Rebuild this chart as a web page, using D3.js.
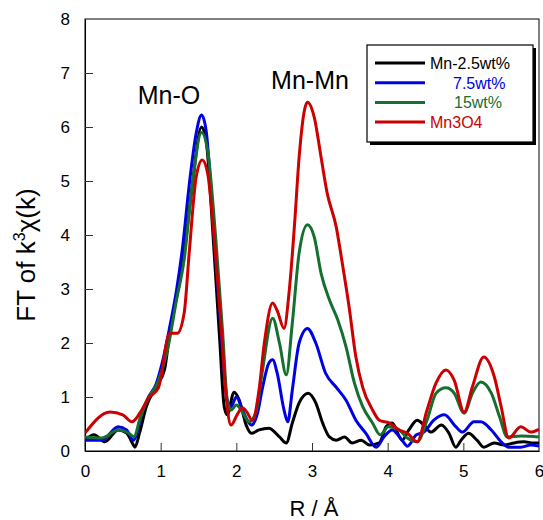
<!DOCTYPE html>
<html>
<head>
<meta charset="utf-8">
<script src="https://cdn.jsdelivr.net/npm/d3@7"></script>
<style>
  body { margin: 0; background: #fff; }
  text { font-family: "Liberation Sans", Arial, sans-serif; }
</style>
</head>
<body>
<div class="chart"></div>
<script>
// series data (R in Angstrom, FT magnitude)
var seriesNames = ["Mn-2.5wt%", "7.5wt%", "15wt%", "Mn3O4"];
var seriesColors = ["#000000", "#0000e6", "#157030", "#cc0000"];

var rBlack = [0, 0.12, 0.26, 0.44, 0.55, 0.64, 0.66, 0.72, 0.81, 0.94, 1.05, 1.12, 1.22, 1.31, 1.41, 1.54, 1.6, 1.69, 1.78, 1.84, 1.88, 1.97, 2.04, 2.13, 2.2, 2.3, 2.43, 2.57, 2.66, 2.74, 2.83, 2.95, 3.05, 3.14, 3.23, 3.32, 3.43, 3.53, 3.65, 3.76, 3.89, 3.98, 4.06, 4.19, 4.28, 4.39, 4.48, 4.57, 4.71, 4.81, 4.9, 4.97, 5.07, 5.18, 5.27, 5.41, 5.54, 5.67, 5.8, 5.93, 6];
var vBlack = [0.2, 0.3, 0.17, 0.39, 0.33, 0.11, 0.07, 0.33, 0.82, 1.19, 1.5, 2.18, 2.92, 3.67, 4.83, 6.0, 5.76, 4.04, 2.06, 0.82, 0.67, 1.09, 0.94, 0.48, 0.33, 0.39, 0.42, 0.26, 0.15, 0.52, 0.89, 1.07, 0.89, 0.52, 0.26, 0.2, 0.26, 0.15, 0.2, 0.11, 0.15, 0.45, 0.52, 0.2, 0.39, 0.57, 0.48, 0.35, 0.48, 0.33, 0.07, 0.2, 0.33, 0.2, 0.07, 0.15, 0.11, 0.15, 0.17, 0.15, 0.15];

var rBlue = [0, 0.22, 0.44, 0.55, 0.64, 0.68, 0.75, 0.84, 0.94, 1.02, 1.12, 1.21, 1.29, 1.38, 1.47, 1.54, 1.6, 1.69, 1.8, 1.88, 1.93, 2.0, 2.08, 2.2, 2.28, 2.34, 2.43, 2.48, 2.54, 2.63, 2.68, 2.74, 2.83, 2.94, 3.05, 3.18, 3.32, 3.45, 3.58, 3.71, 3.85, 3.95, 4.06, 4.19, 4.26, 4.38, 4.48, 4.61, 4.75, 4.9, 4.99, 5.14, 5.23, 5.37, 5.5, 5.6, 5.76, 5.89, 6];
var vBlue = [0.2, 0.2, 0.45, 0.39, 0.2, 0.3, 0.7, 1.0, 1.24, 1.63, 2.3, 2.98, 3.78, 4.96, 5.89, 6.22, 5.94, 4.33, 2.18, 0.94, 0.82, 1.0, 0.76, 0.48, 0.7, 1.13, 1.63, 1.69, 1.44, 0.76, 0.54, 1.13, 2.0, 2.27, 2.0, 1.44, 1.18, 0.94, 0.57, 0.33, 0.07, 0.26, 0.39, 0.2, 0.09, 0.3, 0.35, 0.57, 0.67, 0.45, 0.35, 0.54, 0.54, 0.39, 0.17, 0.07, 0.07, 0.11, 0.09];

var rGreen = [0, 0.22, 0.44, 0.58, 0.65, 0.72, 0.81, 0.97, 1.09, 1.21, 1.31, 1.41, 1.54, 1.62, 1.73, 1.82, 1.88, 1.93, 2.0, 2.08, 2.17, 2.26, 2.34, 2.48, 2.57, 2.66, 2.74, 2.83, 2.94, 3.03, 3.12, 3.23, 3.34, 3.45, 3.56, 3.67, 3.8, 3.9, 4.01, 4.15, 4.26, 4.39, 4.52, 4.64, 4.77, 4.88, 5.01, 5.12, 5.23, 5.37, 5.48, 5.58, 5.76, 6];
var vGreen = [0.26, 0.24, 0.39, 0.33, 0.26, 0.57, 0.91, 1.3, 1.87, 2.8, 3.54, 4.83, 5.9, 5.57, 3.9, 2.18, 0.94, 0.76, 0.85, 0.72, 0.54, 0.72, 1.44, 2.46, 2.0, 1.41, 2.37, 3.67, 4.19, 3.96, 3.29, 2.8, 2.43, 1.93, 1.26, 0.82, 0.52, 0.3, 0.45, 0.39, 0.24, 0.17, 0.57, 1.07, 1.17, 1.07, 0.7, 1.07, 1.28, 1.07, 0.63, 0.26, 0.28, 0.26];

var rRed = [0, 0.33, 0.5, 0.62, 0.75, 0.84, 0.97, 1.12, 1.22, 1.31, 1.38, 1.47, 1.55, 1.62, 1.71, 1.8, 1.87, 1.93, 2.01, 2.08, 2.14, 2.21, 2.3, 2.37, 2.48, 2.54, 2.63, 2.7, 2.77, 2.83, 2.9, 2.94, 3.03, 3.12, 3.2, 3.32, 3.4, 3.49, 3.58, 3.67, 3.8, 3.89, 4.02, 4.15, 4.26, 4.39, 4.52, 4.64, 4.77, 4.88, 5.01, 5.12, 5.27, 5.41, 5.5, 5.6, 5.76, 5.89, 6];
var vRed = [0.33, 0.72, 0.67, 0.54, 0.76, 0.98, 1.17, 2.18, 2.18, 2.55, 3.72, 5.08, 5.39, 5.15, 3.9, 2.3, 0.94, 0.48, 0.67, 0.8, 0.72, 0.57, 1.13, 2.0, 2.74, 2.6, 2.27, 2.98, 4.21, 5.44, 6.31, 6.46, 6.18, 5.44, 4.78, 4.15, 3.48, 2.67, 1.74, 1.18, 0.76, 0.57, 0.52, 0.39, 0.33, 0.17, 0.76, 1.26, 1.5, 1.31, 0.72, 1.19, 1.74, 1.37, 0.82, 0.24, 0.45, 0.35, 0.4];

var xTicks = [0, 1, 2, 3, 4, 5, 6];
var yTicks = [0, 1, 2, 3, 4, 5, 6, 7, 8];

var allR = [rBlack, rBlue, rGreen, rRed];
var allV = [vBlack, vBlue, vGreen, vRed];

var margin = { top: 19, right: 3, bottom: 69, left: 85 };
var width = 543 - margin.left - margin.right,
    height = 520 - margin.top - margin.bottom;

var svg = d3.select(".chart")
  .append("svg")
  .attr("width", 543)
  .attr("height", 520);

var g = svg.append("g")
  .attr("transform", "translate(" + margin.left + "," + margin.top + ")");

var x = d3.scaleLinear().domain([0, 6]).range([0, width - 1]);
var y = d3.scaleLinear().domain([0, 8]).range([height, 0]);

g.append("defs").append("clipPath").attr("id", "clip")
  .append("rect").attr("x", 0).attr("y", 0).attr("width", width).attr("height", height);

// frame
g.append("rect")
  .attr("x", 0).attr("y", 0)
  .attr("width", x(6)).attr("height", height)
  .attr("fill", "none").attr("stroke", "#000").attr("stroke-width", 1);

// axes, ticks pointing inward
var xAxis = g.append("g")
  .attr("transform", "translate(0," + height + ")")
  .call(d3.axisBottom(x).tickValues(xTicks).tickSizeInner(-8).tickSizeOuter(0).tickPadding(14).tickFormat(d3.format("d")));
var yAxis = g.append("g")
  .call(d3.axisLeft(y).tickValues(yTicks).tickSizeInner(-8).tickSizeOuter(0).tickPadding(15).tickFormat(d3.format("d")));

[xAxis, yAxis].forEach(function(a) {
  a.select(".domain").attr("stroke", "#000");
  a.selectAll(".tick line").attr("stroke", "#333");
  a.selectAll("text").attr("font-size", 17).attr("fill", "#000")
    .style("font-family", "'Liberation Sans', Arial, sans-serif");
});
xAxis.selectAll(".tick").filter(function(d) { return d === 0 || d === 6; }).select("line").remove();
yAxis.selectAll(".tick").filter(function(d) { return d === 0 || d === 8; }).select("line").remove();

// lines
var line = d3.line()
  .x(function(d) { return x(d[0]); })
  .y(function(d) { return y(d[1]); })
  .curve(d3.curveMonotoneX);

var plot = g.append("g").attr("clip-path", "url(#clip)");
for (var i = 0; i < 4; i++) {
  var pts = allR[i].map(function(r, j) { return [r, allV[i][j]]; });
  plot.append("path")
    .datum(pts)
    .attr("fill", "none")
    .attr("stroke", seriesColors[i])
    .attr("stroke-width", 3)
    .attr("stroke-linejoin", "round")
    .attr("d", line);
}

// peak labels
svg.append("text").attr("x", 169).attr("y", 104).attr("text-anchor", "middle")
  .attr("font-size", 25).text("Mn-O");
svg.append("text").attr("x", 310).attr("y", 89).attr("text-anchor", "middle")
  .attr("font-size", 25).text("Mn-Mn");

// axis titles
svg.append("text")
  .attr("x", margin.left + x(3) + 2).attr("y", 516)
  .attr("text-anchor", "middle").attr("font-size", 22)
  .text("R / Å");

var yt = svg.append("text")
  .attr("transform", "translate(35,255) rotate(-90)")
  .attr("text-anchor", "middle").attr("font-size", 26);
yt.append("tspan").text("FT of k");
yt.append("tspan").attr("font-size", 16).attr("dy", -10).text("3");
yt.append("tspan").attr("dy", 10).text("χ(k)");

// legend
var lg = svg.append("g").attr("transform", "translate(367,45)");
lg.append("rect").attr("x", 3).attr("y", 3).attr("width", 166).attr("height", 97).attr("fill", "#000");
lg.append("rect").attr("x", 0).attr("y", 0).attr("width", 166).attr("height", 97)
  .attr("fill", "#fff").attr("stroke", "#000").attr("stroke-width", 1.2);
var legendX = [63, 86, 87, 63];
seriesNames.forEach(function(name, i) {
  var row = 18 + i * 19.7;
  lg.append("line").attr("x1", 8).attr("x2", 58).attr("y1", row).attr("y2", row)
    .attr("stroke", seriesColors[i]).attr("stroke-width", 3);
  lg.append("text").attr("x", legendX[i]).attr("y", row + 6)
    .attr("font-size", 16).attr("fill", seriesColors[i]).text(name);
});
</script>
</body>
</html>
